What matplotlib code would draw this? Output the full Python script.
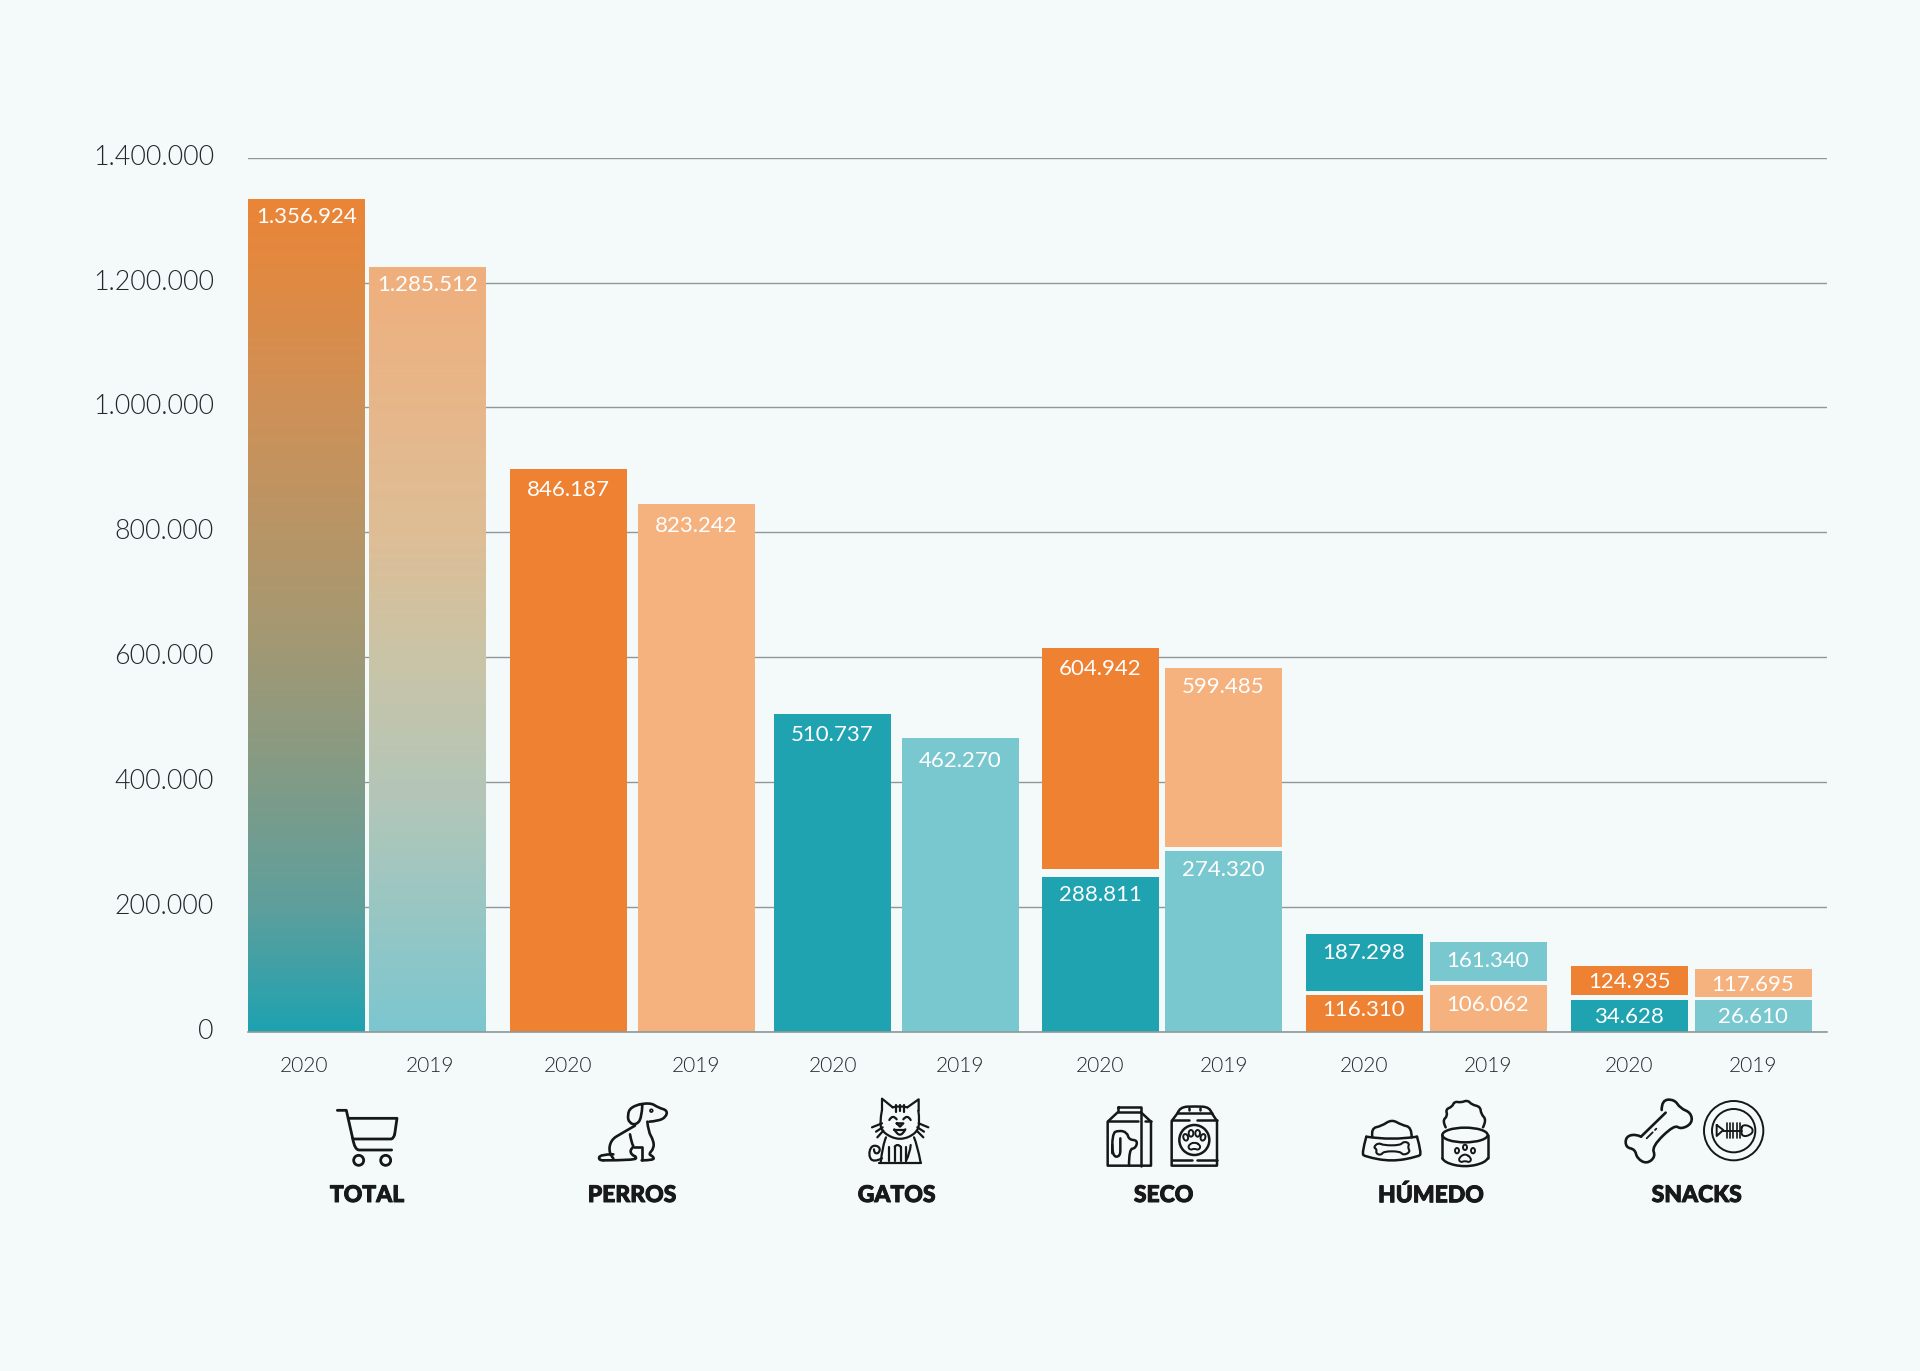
import numpy as np
import matplotlib
matplotlib.use("Agg")
import matplotlib.pyplot as plt
import matplotlib.patheffects as pe
from matplotlib.path import Path
from matplotlib.patches import PathPatch, Circle, Ellipse
from matplotlib.colors import to_rgb
from matplotlib.transforms import ScaledTranslation

# ------------------ data (bar heights as drawn in the picture, labels as printed) ------------------
categories = ["TOTAL", "PERROS", "GATOS", "SECO", "HÚMEDO", "SNACKS"]
years = ["2020", "2019"]

single_heights = [1333900, 1224900, 901800, 844800, 509400, 470900]
single_labels = ["1.356.924", "1.285.512", "846.187", "823.242", "510.737", "462.270"]

lower_heights = [247800, 290400, 59300, 75300, 51300, 51300]
lower_labels = ["288.811", "274.320", "116.310", "106.062", "34.628", "26.610"]

upper_bottoms = [260600, 295900, 65200, 81200, 58800, 56500]
upper_tops = [615100, 582600, 157500, 144200, 106200, 101400]
upper_labels = ["604.942", "599.485", "187.298", "161.340", "124.935", "117.695"]

y_ticks = [0, 200000, 400000, 600000, 800000, 1000000, 1200000, 1400000]
y_tick_labels = ["0", "200.000", "400.000", "600.000", "800.000", "1.000.000", "1.200.000", "1.400.000"]

# ------------------ layout and style ------------------
W, H = 1920, 1371
BG = "#F4FAFA"
ORANGE, ORANGE_L = "#EF8132", "#F5B17E"
TEAL, TEAL_L = "#1FA3B0", "#7AC8CF"
INK = "#23282B"
FONT = "Lato"
PX = 72 / 100  # points per pixel at dpi 100

grad_2020_pos = [0, 0.25, 0.5, 0.65, 0.85, 1]
grad_2020_col = ["#EB8536", "#CE9157", "#A89870", "#8C9A80", "#5F9F9C", "#1FA2B0"]
grad_2019_pos = [0, 0.35, 0.5, 0.7, 1]
grad_2019_col = ["#F0AF7D", "#DEBE96", "#CBC4A6", "#B2C6B8", "#7CC7D0"]

plot_left, plot_right, plot_top, plot_bottom = 248.3, 1827, 157.7, 1032
bar_w = 117
group_c = [367, 632, 896, 1161.5, 1426, 1691]
half_sep = [60.5, 64, 64, 61.5, 62, 62]
centers = []
for c, s in zip(group_c, half_sep):
    centers += [c - s, c + s]
year_x = [304, 430, 568, 696, 832.6, 960, 1099.7, 1223.7, 1364.5, 1488.5, 1628.6, 1753]

single_label_off = [18.4, 18, 21.6, 21.4, 21.5, 23]
upper_label_off = [21.3, 18.7, 19.3, 19, 16.3, 16]
lower_label_off = [17.3, 19.6, 15.3, 20.3, 17, 17]

fig = plt.figure(figsize=(W / 100, H / 100), dpi=100, facecolor=BG)
ax = fig.add_axes([plot_left / W, 1 - plot_bottom / H,
                   (plot_right - plot_left) / W, (plot_bottom - plot_top) / H])
ax.set_facecolor("none")
ax.set_xlim(plot_left, plot_right)
ax.set_ylim(0, 1400000)
for s in ["top", "left", "right"]:
    ax.spines[s].set_visible(False)
ax.spines["bottom"].set_color("#8F9898")
ax.spines["bottom"].set_linewidth(1.2)
ax.set_axisbelow(True)
ax.yaxis.grid(True, color="#8F9898", lw=1.0)
ax.xaxis.grid(False)
ax.set_yticks(y_ticks, y_tick_labels, fontfamily=FONT, fontweight=300, fontsize=19.3, color=INK)
ax.tick_params(axis="y", length=0, pad=24.8)
ax.set_xticks(year_x, years * 6, fontfamily=FONT, fontweight=300, fontsize=15, color=INK)
ax.tick_params(axis="x", length=0, pad=17)
shift_up = ScaledTranslation(0, 3 * PX / 72, fig.dpi_scale_trans)
for t in ax.get_yticklabels():
    t.set_transform(t.get_transform() + shift_up)


def gradient_bar(x, height, pos, cols):
    bars = ax.bar(x, height, width=bar_w, color=cols[-1], zorder=2)
    rgb = np.array([to_rgb(c) for c in cols])
    t = np.linspace(0, 1, 256)
    img = np.stack([np.interp(t, pos, rgb[:, k]) for k in range(3)], axis=1)[:, None, :]
    im = ax.imshow(img, extent=(x - bar_w / 2, x + bar_w / 2, 0, height), aspect="auto", zorder=2.1)
    im.set_clip_path(bars[0])


def bar_label(x, top, text, off):
    ax.annotate(text, (x, top), xytext=(0, -off * PX), textcoords="offset points",
                ha="center", va="center", color="white", fontsize=16, fontfamily=FONT,
                zorder=5)


# total, perros, gatos
gradient_bar(centers[0], single_heights[0], grad_2020_pos, grad_2020_col)
gradient_bar(centers[1], single_heights[1], grad_2019_pos, grad_2019_col)
ax.bar(centers[2:4], single_heights[2:4], width=bar_w, color=[ORANGE, ORANGE_L], zorder=2)
ax.bar(centers[4:6], single_heights[4:6], width=bar_w, color=[TEAL, TEAL_L], zorder=2)
for x, h, t, o in zip(centers[:6], single_heights, single_labels, single_label_off):
    bar_label(x, h, t, o)

# seco, húmedo, snacks
lower_colors = [TEAL, TEAL_L, ORANGE, ORANGE_L, TEAL, TEAL_L]
upper_colors = [ORANGE, ORANGE_L, TEAL, TEAL_L, ORANGE, ORANGE_L]
ax.bar(centers[6:], lower_heights, width=bar_w, color=lower_colors, zorder=2)
ax.bar(centers[6:], np.array(upper_tops) - np.array(upper_bottoms), bottom=upper_bottoms,
       width=bar_w, color=upper_colors, zorder=2)
for x, h, t, o in zip(centers[6:], lower_heights, lower_labels, lower_label_off):
    bar_label(x, h, t, o)
for x, h, t, o in zip(centers[6:], upper_tops, upper_labels, upper_label_off):
    bar_label(x, h, t, o)
ax.set_xlim(plot_left, plot_right)
ax.set_ylim(0, 1400000)

# ------------------ overlay in picture pixels: group names and icons ------------------
ov = fig.add_axes([0, 0, 1, 1])
ov.set_xlim(0, W)
ov.set_ylim(H, 0)
ov.axis("off")
ov.patch.set_alpha(0)

cat_x = [367, 632, 896.6, 1163.5, 1430.8, 1696.6]
for x, name in zip(cat_x, categories):
    ov.text(x, 1195.5, name, ha="center", va="center", fontsize=16.5, fontfamily=FONT,
            fontweight="black", color="#17191B",
            path_effects=[pe.withStroke(linewidth=0.7, foreground="#17191B")])

STROKE = dict(edgecolor="#151718", facecolor="none", capstyle="round", joinstyle="round")


class Icon:
    """Line icon, coordinates given at 3x the picture scale from an origin."""
    def __init__(self, ox, oy, lw=1.8):
        self.ox, self.oy, self.lw = ox, oy, lw

    def xy(self, pts):
        p = np.asarray(pts, float)
        return np.column_stack([self.ox + p[:, 0] / 3, self.oy + p[:, 1] / 3])

    def line(self, pts, lw=None, closed=False):
        p = self.xy(pts)
        if closed:
            p = np.vstack([p, p[0]])
        ov.add_patch(PathPatch(Path(p), lw=lw or self.lw, **STROKE))

    def curve(self, pts, lw=None, closed=False):
        p = self.xy(pts)
        verts, codes = [], []
        if closed:
            m = (p + np.roll(p, -1, axis=0)) / 2
            verts.append(m[-1]); codes.append(Path.MOVETO)
            for i in range(len(p)):
                verts += [p[i], m[i]]; codes += [Path.CURVE3, Path.CURVE3]
        else:
            verts.append(p[0]); codes.append(Path.MOVETO)
            for i in range(1, len(p) - 1):
                end = (p[i] + p[i + 1]) / 2 if i < len(p) - 2 else p[i + 1]
                verts += [p[i], end]; codes += [Path.CURVE3, Path.CURVE3]
            if len(p) == 2:
                verts.append(p[1]); codes.append(Path.LINETO)
        ov.add_patch(PathPatch(Path(verts, codes), lw=lw or self.lw, **STROKE))

    def circle(self, x, y, r, lw=None):
        c = self.xy([(x, y)])[0]
        ov.add_patch(Circle(c, r / 3, lw=lw or self.lw, **STROKE))

    def ellipse(self, x, y, rx, ry, lw=None, angle=0):
        c = self.xy([(x, y)])[0]
        ov.add_patch(Ellipse(c, 2 * rx / 3, 2 * ry / 3, angle=angle, lw=lw or self.lw, **STROKE))


# cart
i = Icon(320, 1095, 2.0)
i.line([(52, 46), (79, 46), (98, 130)])
i.curve([(98, 130), (104, 165), (130, 165), (215, 165)])
i.line([(85, 70), (231, 70), (224, 118)])
i.curve([(224, 118), (220, 132), (205, 132), (100, 132)])
i.circle(116, 196, 15)
i.circle(197, 196, 15)

# dog
i = Icon(590, 1095, 1.9)
i.curve([(150, 28), (180, 22), (205, 38), (232, 46), (228, 66), (205, 78), (178, 80)])
i.curve([(150, 28), (122, 35), (112, 62), (118, 84), (138, 90), (155, 70), (157, 30)])
i.curve([(172, 80), (175, 110), (190, 135), (192, 160), (175, 178), (190, 184), (192, 196), (155, 196)])
i.line([(155, 196), (155, 155), (132, 155)])
i.curve([(135, 92), (95, 115), (62, 135), (56, 175), (70, 190)])
i.curve([(120, 118), (125, 145), (132, 155), (120, 165), (125, 180), (140, 185), (135, 196), (40, 196)])
i.curve([(70, 178), (30, 178), (25, 196), (40, 196)])
i.circle(184, 47, 2.5, lw=2)

# cat
i = Icon(860, 1090, 1.6)
i.curve([(66, 60), (58, 100), (70, 130), (120, 152), (170, 130), (180, 95), (175, 62)])
i.line([(66, 60), (66, 26), (98, 52)])
i.line([(142, 52), (176, 28), (176, 62)])
i.curve([(98, 52), (120, 46), (142, 52)])
for xa, ya in [(108, 66), (120, 64), (132, 66)]:
    i.line([(xa, 46), (xa, ya)])
i.curve([(88, 90), (98, 72), (110, 88)])
i.curve([(130, 88), (142, 72), (152, 90)])
i.line([(110, 100), (130, 100), (120, 110)], closed=True)
i.curve([(103, 118), (120, 150), (136, 118)])
i.line([(103, 120), (136, 120)])
i.line([(36, 112), (66, 100)]); i.line([(48, 125), (68, 112)]); i.line([(52, 142), (70, 122)])
i.line([(205, 112), (176, 100)]); i.line([(192, 125), (172, 112)]); i.line([(190, 142), (170, 122)])
i.curve([(78, 142), (68, 165), (62, 218)])
i.curve([(162, 142), (172, 165), (182, 218)])
i.line([(58, 218), (182, 218)])
for xa, ya in [(88, 212), (104, 212), (122, 212), (138, 212)]:
    i.line([(xa, 170), (xa, ya)])
i.curve([(104, 170), (112, 160), (122, 170)])
i.curve([(138, 212), (150, 190), (152, 165)])
i.curve([(66, 205), (40, 218), (25, 195), (35, 165), (60, 170), (58, 190), (42, 190), (42, 178)])

# seco: carton and bag
i = Icon(1095, 1095, 1.8)
i.line([(68, 36), (138, 36), (138, 52), (68, 52)], closed=True)
i.line([(68, 52), (38, 80), (38, 212), (168, 212), (168, 80), (138, 52)])
i.line([(38, 78), (128, 78)])
i.line([(138, 54), (138, 212)])
i.line([(150, 78), (168, 78)])
i.curve([(52, 175), (50, 115), (72, 106), (96, 112), (102, 134), (128, 136), (122, 160), (102, 162), (102, 212)])
i.curve([(52, 150), (52, 185), (76, 185), (76, 150), (76, 130)])
i.curve([(248, 54), (254, 36), (300, 34), (345, 36), (350, 54)])
i.line([(248, 54), (350, 54)])
i.line([(282, 38), (282, 46)]); i.line([(315, 38), (315, 46)])
i.line([(248, 54), (230, 78), (230, 212), (366, 212), (366, 78), (350, 54)])
i.line([(230, 74), (282, 74)]); i.line([(306, 74), (366, 74)])
i.line([(230, 196), (290, 196)]); i.line([(306, 196), (366, 196)])
i.circle(298, 135, 45)
i.ellipse(272, 127, 7, 10, angle=-15, lw=1.4)
i.ellipse(288, 115, 7, 10, lw=1.4)
i.ellipse(308, 115, 7, 10, lw=1.4)
i.ellipse(324, 127, 7, 10, angle=15, lw=1.4)
i.curve([(298, 140), (278, 152), (285, 166), (298, 160), (311, 166), (318, 152)], closed=True, lw=1.4)

# húmedo: bowl and can
i = Icon(1355, 1090, 1.8)
i.curve([(52, 140), (48, 115), (80, 108), (110, 88), (140, 105), (170, 112), (170, 142)])
i.curve([(34, 140), (20, 190), (30, 200), (110, 215), (190, 200), (200, 190), (186, 140)])
i.curve([(34, 140), (110, 152), (186, 140)])
i.curve([(70, 158), (55, 172), (66, 178), (62, 190), (78, 196), (86, 184), (135, 184), (145, 196),
         (166, 186), (158, 172), (164, 160), (146, 154), (136, 166), (85, 166)], closed=True, lw=1.5)
i.curve([(272, 112), (262, 92), (278, 78), (272, 58), (292, 50), (298, 34), (318, 38), (338, 30), (350, 44),
         (376, 50), (378, 72), (395, 90), (384, 112)])
i.ellipse(330, 135, 68, 22)
i.line([(262, 135), (262, 205)]); i.line([(398, 135), (398, 205)])
i.curve([(262, 205), (268, 218), (330, 232), (392, 218), (398, 205)])
i.ellipse(306, 182, 6, 8, lw=1.4)
i.ellipse(330, 172, 6, 8, lw=1.4)
i.ellipse(354, 182, 6, 8, lw=1.4)
i.curve([(330, 190), (310, 205), (316, 218), (330, 212), (344, 218), (350, 205)], closed=True, lw=1.4)

# snacks: bone and plate with fish
i = Icon(1615, 1090, 1.9)
i.curve([(140, 60), (140, 30), (178, 28), (196, 55), (228, 68), (232, 100), (198, 118), (178, 104),
         (110, 170), (122, 200), (95, 222), (66, 205), (60, 178), (32, 172), (32, 140), (62, 132), (78, 140)],
        closed=False)
i.line([(78, 140), (152, 68)])
i.line([(95, 145), (113, 127)], lw=1.3)
i.line([(120, 120), (124, 116)], lw=1.3)
i.circle(356, 122, 89, lw=1.4)
i.circle(356, 122, 65, lw=1.4)
i.line([(305, 105), (325, 120), (305, 138)], closed=True, lw=1.4)
i.line([(325, 122), (380, 122)], lw=1.4)
for xx in [335, 345, 355, 365, 375]:
    i.line([(xx, 100), (xx, 144)], lw=1.2)
i.curve([(382, 104), (405, 108), (416, 122), (405, 136), (382, 140), (378, 122)], closed=True, lw=1.4)

fig.savefig("out.png", dpi=100, facecolor=BG)
